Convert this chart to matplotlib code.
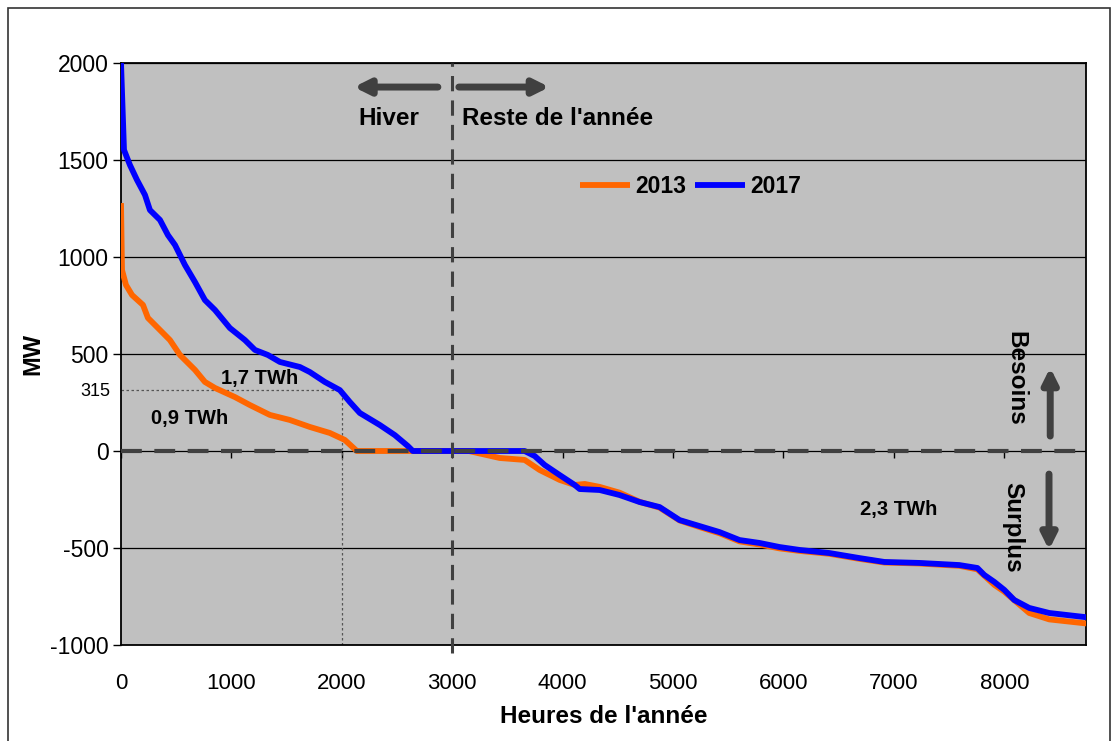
import matplotlib
matplotlib.use("Agg")
import matplotlib.pyplot as plt
from matplotlib.patches import Rectangle

plt.rcParams['font.family'] = ['Liberation Sans', 'DejaVu Sans']

# ---- data ----
hours_2017 = [0, 27, 81, 145, 217, 262, 353, 425, 489, 579, 670, 760, 851, 986, 1122, 1213,
              1330, 1439, 1620, 1710, 1846, 1982, 2072, 2163, 2344, 2480, 2597, 2643, 3656,
              3747, 3837, 3973, 4109, 4154, 4335, 4516, 4697, 4878, 5059, 5240, 5421, 5602,
              5783, 5964, 6145, 6416, 6688, 6914, 7231, 7593, 7756, 7819, 7910, 8000, 8090,
              8226, 8407, 8760]
mw_2017 = [2000, 1552, 1474, 1397, 1320, 1242, 1191, 1113, 1062, 959, 871, 778, 727, 634, 572,
           521, 495, 459, 433, 407, 356, 314, 253, 196, 134, 82, 26, 0, 0,
           -26, -72, -124, -175, -196, -201, -227, -263, -289, -356, -387, -418, -459,
           -474, -495, -510, -526, -552, -572, -577, -588, -603, -639, -675, -716, -768,
           -809, -835, -858]

hours_2013 = [0, 9, 45, 100, 199, 244, 335, 443, 534, 670, 760, 851, 1032, 1167, 1348, 1529,
              1710, 1891, 2027, 2136, 3150, 3430, 3656, 3792, 3973, 4109, 4200, 4335, 4516,
              4697, 4878, 5059, 5240, 5421, 5602, 5783, 5964, 6145, 6416, 6688, 6914, 7231,
              7593, 7756, 7910, 8000, 8226, 8407, 8760]
mw_2013 = [1278, 933, 856, 804, 753, 686, 634, 572, 495, 418, 356, 325, 278, 237, 186, 160,
           124, 93, 57, 0, 0, -36, -46, -98, -149, -175, -170, -185, -215,
           -262, -292, -358, -392, -424, -466, -482, -502, -515, -530, -556, -575, -580,
           -592, -610, -690, -725, -835, -868, -890]

x_ticks = [0, 1000, 2000, 3000, 4000, 5000, 6000, 7000, 8000]
y_ticks = [-1000, -500, 0, 500, 1000, 1500, 2000]
ref_x, ref_y = 2000, 315
season_split = 3000

fig = plt.figure(figsize=(11.17, 7.41), dpi=100)
ax = fig.add_axes([121/1117, 96/741, 965/1117, 582/741])
ax.set_facecolor('#C0C0C0')

ax.set_xlim(0, 8740)
ax.set_ylim(-1000, 2000)

# grid
ax.set_yticks(y_ticks)
ax.set_yticklabels([str(v) for v in y_ticks], fontsize=16.5)
ax.set_yticks([ref_y], minor=True)
ax.set_yticklabels([str(ref_y)], minor=True, fontsize=13)
ax.tick_params(axis='y', which='major', direction='out', length=6, width=1, pad=3)
ax.tick_params(axis='y', which='minor', length=0, pad=8)
ax.yaxis.grid(True, which='major', color='black', lw=0.9)
ax.set_axisbelow(True)

ax.set_xticks(x_ticks)
ax.set_xticklabels([str(v) for v in x_ticks], fontsize=16)
ax.tick_params(axis='x', length=0, pad=20)

# small ticks on the zero line
sec = ax.secondary_xaxis(1/3)
sec.set_xticks(x_ticks)
sec.set_xticklabels([])
sec.tick_params(axis='x', direction='out', length=5, width=1, colors='black')
sec.spines['bottom'].set_visible(False)
sec.spines['top'].set_visible(False)

for s in ax.spines.values():
    s.set_color('black')
    s.set_linewidth(1.3)

# reference dotted lines
ax.plot([0, ref_x], [ref_y, ref_y], ls=(0, (2, 2)), color='#555555', lw=0.9, zorder=2)
ax.plot([ref_x, ref_x], [-1000, ref_y], ls=(0, (2, 2)), color='#555555', lw=0.9, zorder=2)

# curves
ax.plot(hours_2013, mw_2013, color='#FF6600', lw=4.2, solid_capstyle='butt', label='2013', zorder=3)
ax.plot(hours_2017, mw_2017, color='#0000FF', lw=4.2, solid_capstyle='butt', label='2017', zorder=4)

# dashed zero line & season split
ax.axhline(0, color='#404040', lw=3, ls=(0, (5, 3)), zorder=5)
ax.plot([season_split, season_split], [-1040, 2000], color='#404040', lw=2.2,
        ls=(0, (5, 3)), zorder=5, clip_on=False)

# arrows
arrow_kw = dict(arrowstyle='-|>,head_length=0.9,head_width=0.45', color='#404040', lw=5,
                shrinkA=0, shrinkB=0)
ax.annotate('', xy=(2110, 1876), xytext=(2870, 1876), arrowprops=arrow_kw)
ax.annotate('', xy=(3880, 1876), xytext=(3060, 1876), arrowprops=arrow_kw)
ax.annotate('', xy=(8416, 430), xytext=(8416, 77), arrowprops=arrow_kw)
ax.annotate('', xy=(8405, -510), xytext=(8405, -119), arrowprops=arrow_kw)

# texts
ax.text(2425, 1716, 'Hiver', fontsize=17.5, fontweight='bold', ha='center', va='center')
ax.text(3090, 1716, "Reste de l'année", fontsize=17.5, fontweight='bold', ha='left', va='center')
ax.text(1258, 373, '1,7 TWh', fontsize=14.5, fontweight='bold', ha='center', va='center')
ax.text(624, 167, '0,9 TWh', fontsize=14.5, fontweight='bold', ha='center', va='center')
ax.text(7041, -299, '2,3 TWh', fontsize=14.5, fontweight='bold', ha='center', va='center')
ax.text(8105, 376, 'Besoins', fontsize=17.5, fontweight='bold', ha='center', va='center', rotation=-90)
ax.text(8080, -392, 'Surplus', fontsize=17.5, fontweight='bold', ha='center', va='center', rotation=-90)

ax.set_ylabel('MW', fontsize=17, fontweight='bold', labelpad=4)
ax.set_xlabel("Heures de l'année", fontsize=17.5, fontweight='bold', labelpad=8)

leg = ax.legend(ncol=2, frameon=False, loc='center', bbox_to_anchor=(0.590, 0.787),
                handlelength=2.2, handletextpad=0.2, columnspacing=0.4,
                prop={'size': 16.5, 'weight': 'bold'})

# figure border
fig.patches.append(Rectangle((8/1117, -0.05), 1102/1117, (733/741) + 0.05,
                             transform=fig.transFigure, fill=False, edgecolor='#333333', lw=1.2))

fig.savefig('out.png', dpi=100)
